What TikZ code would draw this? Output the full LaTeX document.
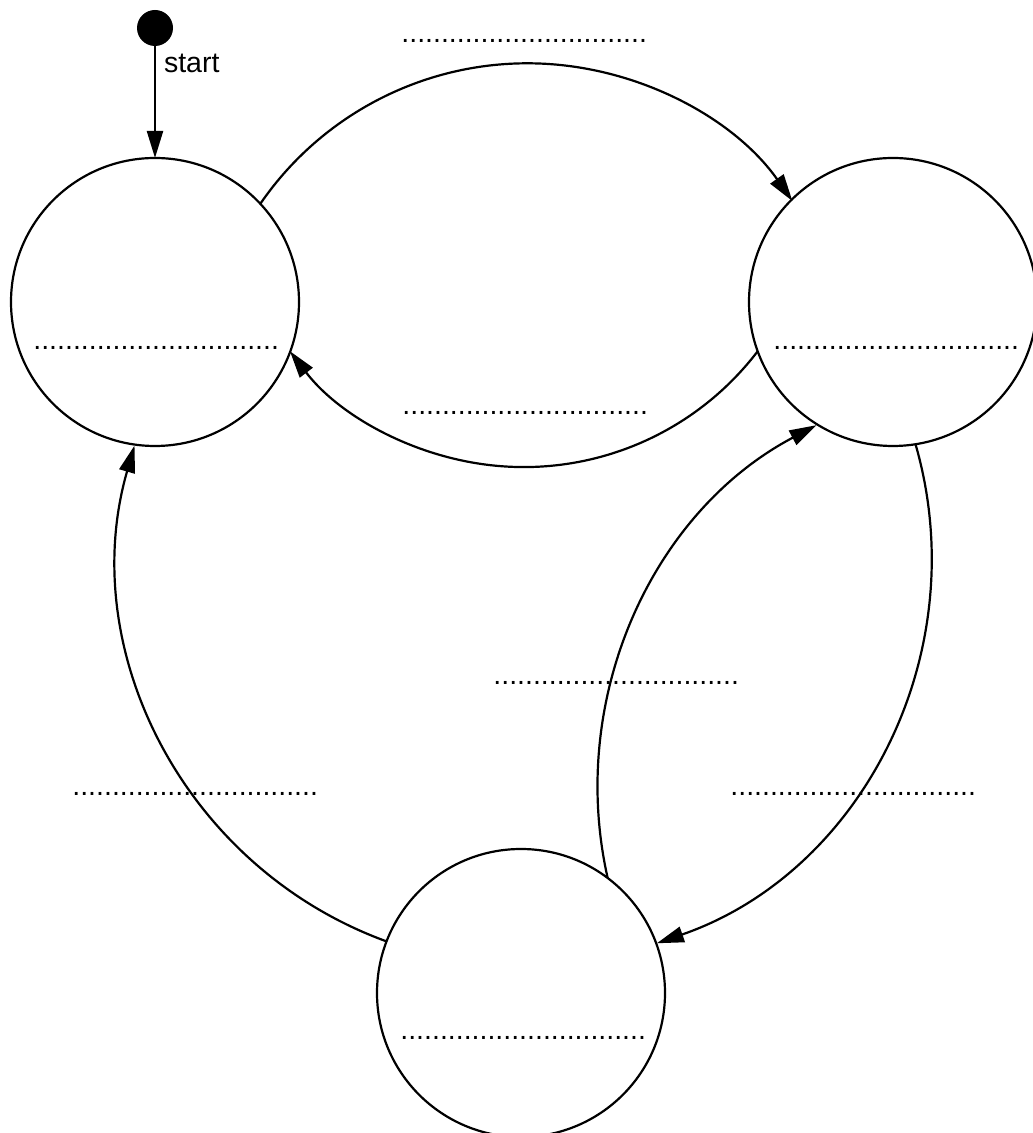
\documentclass[tikz,border=0pt]{standalone}
\usepackage{fontspec}
\setmainfont{Liberation Sans}
\usetikzlibrary{arrows.meta}
\newcommand\dotrow{...............................}
\begin{document}
\begin{tikzpicture}[x=1pt,y=1pt,
  state/.style={circle,draw,line width=2.2pt,minimum size=288pt,inner sep=0pt,outer sep=0pt},
  conn/.style={line width=2.2pt,-{Triangle[length=27pt,width=16pt]}},
  blank/.style={inner sep=0pt,outer sep=0pt,anchor=base west,font=\fontsize{28.5}{34}\selectfont},
]
\useasboundingbox (0,0) rectangle (1033,1133);
\node[state] (L) at (155,831) {};
\node[state] (R) at (893,831) {};
\node[state] (B) at (521,140) {};
\node[circle,fill,inner sep=0pt,outer sep=0pt,minimum size=36pt] (S) at (155,1105) {};
\draw[conn] (S) -- (L.north);
\node[blank] (st) at (164,1060) {start};
% placeholders
\node[blank] (t1) at (401.4,1090.5) {\dotrow};
\node[blank] (t2) at (33.4,783.5) {\dotrow};
\node[blank] (t3) at (773.4,783.5) {\dotrow};
\node[blank] (t4) at (402.4,718.5) {\dotrow};
\node[blank] (t5) at (493.4,448.5) {\dotrow};
\node[blank] (t6) at (72.4,337.5) {\dotrow};
\node[blank] (t7) at (730.4,337.5) {\dotrow};
\node[blank] (t8) at (400.4,93.5) {\dotrow};
% transitions
\draw[conn] (L.43) arc[start angle=145.5, end angle=35.1, radius=324];
\draw[conn] (R.200) arc[start angle=-37.3, end angle=-142.7, radius=294];
\draw[conn] (B.159) arc[start angle=250, end angle=163.9, radius=407.4];
\draw[conn] (R.279) arc[start angle=16.1, end angle=-70.9, radius=408.3];
\draw[conn] (B.53) arc[start angle=192.7, end angle=117.8, radius=410];
\end{tikzpicture}
\end{document}
